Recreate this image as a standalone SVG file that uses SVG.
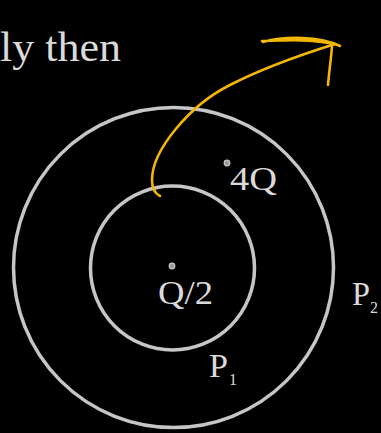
<svg xmlns="http://www.w3.org/2000/svg" width="381" height="433" viewBox="0 0 381 433">
<style>
.ring{fill:none;stroke:#c6c6c6;stroke-width:3.5}
.t{font-family:"Liberation Serif",serif;fill:#dadada}
.dot{fill:#9a9a9a;stroke:#c8c8c8;stroke-width:1.2}
.pen{fill:none;stroke:#f2b705;stroke-width:2.6;stroke-linecap:round;stroke-linejoin:round}
</style>
<rect width="381" height="433" fill="#000"/>
<text class="t" x="0" y="61" font-size="43" textLength="121" lengthAdjust="spacingAndGlyphs">ly then</text>
<g id="outer"><circle class="ring" cx="173.5" cy="267.5" r="160"/></g>
<g id="inner"><circle class="ring" cx="172.5" cy="268" r="82"/></g>
<g id="q2"><circle class="dot" cx="172" cy="266" r="2.8"/><text class="t" x="158" y="304" font-size="33" textLength="55" lengthAdjust="spacingAndGlyphs">Q/2</text></g>
<g id="q4"><circle class="dot" cx="227" cy="163" r="2.8"/><text class="t" x="230" y="190" font-size="33" textLength="47" lengthAdjust="spacingAndGlyphs">4Q</text></g>
<g id="p1"><text class="t" x="209" y="377" font-size="34" textLength="19" lengthAdjust="spacingAndGlyphs">P</text><text class="t" x="229" y="385" font-size="16">1</text></g>
<g id="p2"><text class="t" x="352" y="305" font-size="33" textLength="18" lengthAdjust="spacingAndGlyphs">P</text><text class="t" x="370" y="313" font-size="16">2</text></g>
<g id="connectors">
<path class="pen" d="M160 196 Q152 192 152 180 C152 150 190 105 230 85 C265 67 300 55 335 44"/>
<path class="pen" d="M263 42 C285 36 320 36 340 46 M262 41 C290 40 315 39 338 45"/>
<path class="pen" d="M332 46 C331 60 329 72 328 85"/>
</g>
</svg>
